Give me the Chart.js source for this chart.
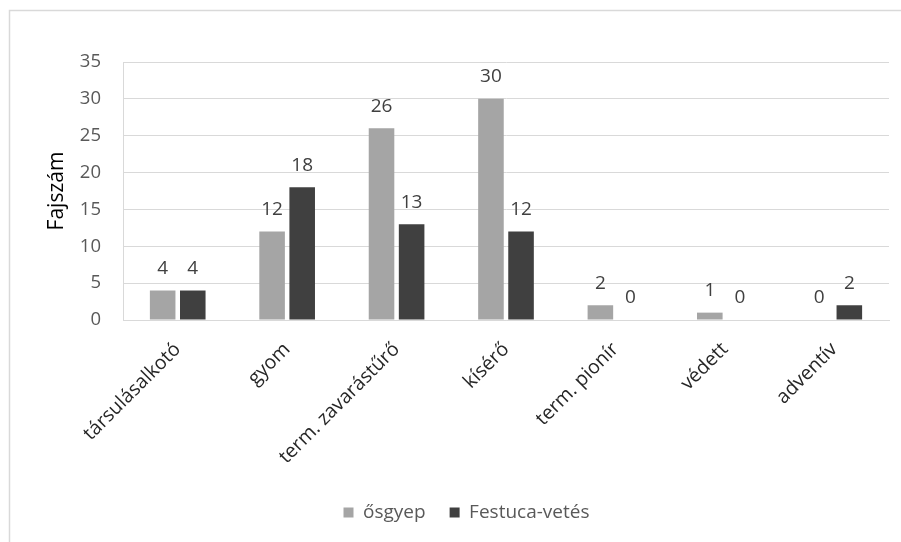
<!DOCTYPE html>
<html>
<head>
<meta charset="utf-8">
<script src="https://cdn.jsdelivr.net/npm/chart.js@4/dist/chart.umd.min.js"></script>
<style>
  html, body { margin: 0; padding: 0; background: #fff; }
  #wrap { width: 901px; height: 542px; position: relative; }
</style>
</head>
<body>
<div id="wrap"><canvas id="c" width="901" height="542"></canvas></div>
<script>
const categories = ['társulásalkotó', 'gyom', 'term. zavarástűrő', 'kísérő', 'term. pionír', 'védett', 'adventív'];
const osgyep = [4, 12, 26, 30, 2, 1, 0];
const festuca = [4, 18, 13, 12, 0, 0, 2];
const seriesNames = ['ősgyep', 'Festuca-vetés'];
const yTicks = [0, 5, 10, 15, 20, 25, 30, 35];

const FONT = '"Open Sans", "Liberation Sans", sans-serif';
const PAD_BOTTOM = 10;
const PLOT_TOP = 62;
const PLOT_HEIGHT = 258;

// outer frame around the chart
const framePlugin = {
  id: 'frame',
  beforeDraw(chart) {
    const ctx = chart.ctx;
    ctx.save();
    ctx.fillStyle = '#fff';
    ctx.fillRect(0, 0, chart.width, chart.height);
    ctx.strokeStyle = '#d9d9d9';
    ctx.lineWidth = 1.5;
    ctx.strokeRect(9.5, 10.5, chart.width + 20, chart.height + 20);
    ctx.restore();
  }
};

// value labels above each bar
const valueLabels = {
  id: 'valueLabels',
  afterDatasetsDraw(chart) {
    const ctx = chart.ctx;
    ctx.save();
    ctx.font = '19px ' + FONT;
    ctx.fillStyle = '#404040';
    ctx.textAlign = 'center';
    ctx.textBaseline = 'middle';
    chart.data.datasets.forEach((ds, i) => {
      chart.getDatasetMeta(i).data.forEach((bar, j) => {
        ctx.fillText(String(ds.data[j]), bar.x, bar.y - 22);
      });
    });
    ctx.restore();
  }
};

new Chart(document.getElementById('c'), {
  type: 'bar',
  data: {
    labels: categories,
    datasets: [
      { label: seriesNames[0], data: osgyep, backgroundColor: '#a5a5a5' },
      { label: seriesNames[1], data: festuca, backgroundColor: '#404040' }
    ]
  },
  options: {
    responsive: false,
    animation: false,
    devicePixelRatio: 1,
    datasets: { bar: { categoryPercentage: 0.55, barPercentage: 0.85 } },
    layout: { padding: { left: 44, right: 12, top: PLOT_TOP, bottom: PAD_BOTTOM } },
    plugins: {
      tooltip: { enabled: false },
      legend: {
        position: 'bottom',
        labels: {
          font: { family: FONT, size: 19 },
          color: '#595959',
          boxWidth: 10,
          boxHeight: 10,
          padding: 24
        }
      }
    },
    scales: {
      x: {
        grid: { display: false, drawTicks: false },
        border: { display: true, color: '#d9d9d9', width: 1 },
        ticks: {
          font: { family: FONT, size: 19.5 },
          color: '#262626',
          maxRotation: 45,
          minRotation: 45,
          padding: 18
        },
        afterFit(scale) {
          const lh = scale.chart.legend ? scale.chart.legend.height : 0;
          scale.height = 542 - PLOT_TOP - PLOT_HEIGHT - PAD_BOTTOM - lh;
        }
      },
      y: {
        min: 0,
        max: 35,
        afterBuildTicks(scale) { scale.ticks = yTicks.map(v => ({ value: v })); },
        grid: { color: '#d9d9d9', drawTicks: false },
        border: { display: true, color: '#d9d9d9' },
        ticks: {
          font: { family: FONT, size: 18.5 },
          color: '#595959',
          padding: 22
        },
        title: {
          display: true,
          text: 'Fajszám',
          font: { family: FONT, size: 21 },
          color: '#000',
          padding: { top: 0, bottom: 0 }
        },
        afterFit(scale) { scale.width = 79; }
      }
    }
  },
  plugins: [framePlugin, valueLabels]
});
</script>
</body>
</html>
